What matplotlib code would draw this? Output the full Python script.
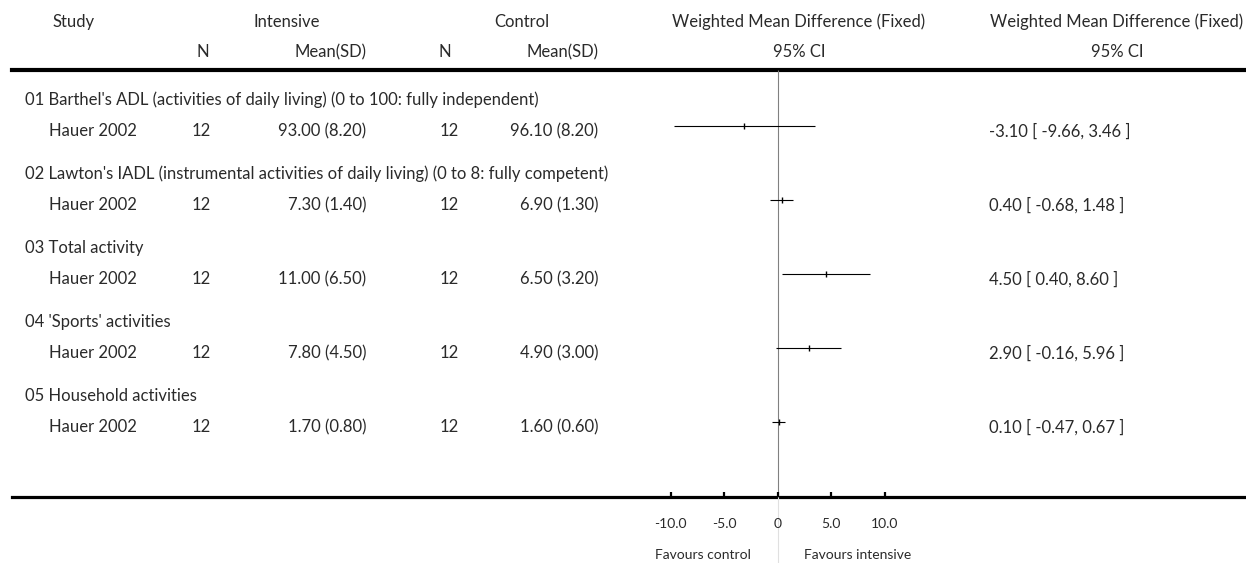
import matplotlib.pyplot as plt
from matplotlib import transforms

# data
outcomes = [
    "01 Barthel's ADL (activities of daily living) (0 to 100: fully independent)",
    "02 Lawton's IADL (instrumental activities of daily living) (0 to 8: fully competent)",
    "03 Total activity",
    "04 'Sports' activities",
    "05 Household activities",
]
studies = ["Hauer 2002"] * 5
n_int = [12, 12, 12, 12, 12]
mean_int = ["93.00 (8.20)", "7.30 (1.40)", "11.00 (6.50)", "7.80 (4.50)", "1.70 (0.80)"]
n_ctl = [12, 12, 12, 12, 12]
mean_ctl = ["96.10 (8.20)", "6.90 (1.30)", "6.50 (3.20)", "4.90 (3.00)", "1.60 (0.60)"]
wmd = [-3.10, 0.40, 4.50, 2.90, 0.10]
ci_lo = [-9.66, -0.68, 0.40, -0.16, -0.47]
ci_hi = [3.46, 1.48, 8.60, 5.96, 0.67]
axis_ticks = [-10, -5, 0, 5, 10]
axis_ticklabels = ["-10.0", "-5.0", "0", "5.0", "10.0"]

W, H = 1246, 563
zero_px = 777.5
px_per_unit = 10.7

plt.rcParams['font.family'] = ['Lato', 'DejaVu Sans']
fs = 12.0
tc = '#2a2a2a'

fig = plt.figure(figsize=(W / 100, H / 100), dpi=100)
ax = fig.add_axes([0, 0, 1, 1])
ax.set_xlim(-zero_px / px_per_unit, (W - zero_px) / px_per_unit)
ax.set_ylim(H, 0)
ax.axis('off')

# x in pixels (as axes fraction), y in data
tr = transforms.blended_transform_factory(ax.transAxes, ax.transData)


def txt(x, y, s, ha='left'):
    ax.text(x / W, y, s, transform=tr, ha=ha, va='center', fontsize=fs, color=tc)


# header
txt(74, 22, "Study", 'center')
txt(287, 22, "Intensive", 'center')
txt(522, 22, "Control", 'center')
txt(799, 22, "Weighted Mean Difference (Fixed)", 'center')
txt(1117, 22, "Weighted Mean Difference (Fixed)", 'center')
txt(203, 52, "N", 'center')
txt(366, 52, "Mean(SD)", 'right')
txt(445, 52, "N", 'center')
txt(598, 52, "Mean(SD)", 'right')
txt(799, 52, "95% CI", 'center')
txt(1117, 52, "95% CI", 'center')

ax.axhline(70, xmin=12 / W, xmax=1, color='black', lw=3.0)
ax.axhline(497, xmin=12 / W, xmax=1, color='black', lw=2.3)

# reference line at zero
ax.vlines(0, 70, 497, color='#808080', lw=0.8)
ax.vlines(0, 497, H, color='#e0e0e0', lw=0.8)

# rows
for i in range(len(outcomes)):
    yg = 100 + 74 * i
    ys = yg + 31
    txt(25, yg, outcomes[i])
    txt(49, ys, studies[i])
    txt(201, ys, str(n_int[i]), 'center')
    txt(366, ys, mean_int[i], 'right')
    txt(449, ys, str(n_ctl[i]), 'center')
    txt(598, ys, mean_ctl[i], 'right')
    txt(989, ys, f"{wmd[i]:.2f} [ {ci_lo[i]:.2f}, {ci_hi[i]:.2f} ]")

    yc = ys - 5
    ax.hlines(yc, ci_lo[i], ci_hi[i], color='black', lw=0.8)
    ax.plot(wmd[i], yc, marker='|', ms=4, mew=1.0, color='black')

# axis ticks and labels
ax.vlines(axis_ticks, 491.5, 497, color='black', lw=1.6)
for t, lab in zip(axis_ticks, axis_ticklabels):
    ax.text(t, 524, lab, ha='center', va='center', fontsize=10, color=tc)
ax.text(-27 / px_per_unit, 555, "Favours control", ha='right', va='center',
        fontsize=10, color=tc)
ax.text(27 / px_per_unit, 555, "Favours intensive", ha='left', va='center',
        fontsize=10, color=tc)

fig.savefig("out.png", dpi=100)
